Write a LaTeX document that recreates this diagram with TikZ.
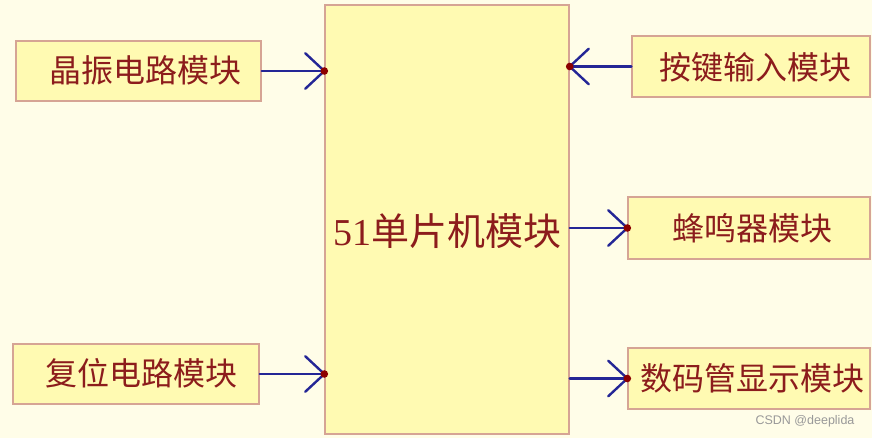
\documentclass[tikz,border=0pt]{standalone}
\usepackage{fontspec}
\setmainfont{Liberation Serif}
\newfontfamily\cjk{Noto Sans CJK SC}
\newfontfamily\wm{Liberation Sans}
\usetikzlibrary{calc}
\definecolor{bgc}{RGB}{255,253,232}
\definecolor{boxfill}{RGB}{255,250,178}
\definecolor{boxline}{RGB}{214,164,148}
\definecolor{txtc}{RGB}{140,28,28}
\definecolor{arrc}{RGB}{36,38,150}
\definecolor{dotc}{RGB}{140,0,0}
\tikzset{
  blockbox/.style={draw=boxline, line width=1.4pt, fill=boxfill, inner sep=0pt},
  lbl/.style={text=txtc, inner sep=0pt, font=\cjk\fontsize{32}{32}\selectfont},
  conn/.style={draw=arrc, line width=2.4pt, line cap=round, line join=round},
  jdot/.style={fill=dotc},
}
\newcommand{\barbarrow}[2]{%
  \draw[conn] (#1) -- (#2);
  \draw[conn] ($(#2)!26pt!43:(#1)$) -- (#2) -- ($(#2)!26pt!-43:(#1)$);
  \fill[jdot] (#2) circle (3.8pt);
}
\begin{document}
\begin{tikzpicture}[x=1pt,y=-1pt]
\fill[bgc] (0,0) rectangle (872,438);
\useasboundingbox (0,0) rectangle (872,438);
% boxes
\node[blockbox, minimum width=244pt, minimum height=429pt] (main) at (447,219.5) {};
\node[blockbox, minimum width=245pt, minimum height=60pt] (l1) at (138.5,71) {};
\node[blockbox, minimum width=246pt, minimum height=60pt] (l2) at (136,374) {};
\node[blockbox, minimum width=238pt, minimum height=61pt] (r1) at (751,66.5) {};
\node[blockbox, minimum width=242pt, minimum height=62pt] (r2) at (749,228) {};
\node[blockbox, minimum width=242pt, minimum height=61pt] (r3) at (749,378.5) {};
% texts
\node[lbl] (tl1) at (145,70) {晶振电路模块};
\node[lbl] (tl2) at (141,373) {复位电路模块};
\node[lbl] (tr1) at (755,67) {按键输入模块};
\node[lbl] (tr2) at (752,228) {蜂鸣器模块};
\node[lbl] (tr3) at (752,378) {数码管显示模块};
\node[text=txtc, inner sep=0pt] (tm) at (447.5,231) {\fontsize{38}{38}\selectfont 51\cjk 单片机模块};
\node[text=black!40, inner sep=0pt, font=\wm\fontsize{12.5}{12.5}\selectfont] (wmk) at (805,421) {CSDN @deeplida};
% connectors
\coordinate (p1) at (main.west |- l1.east);
\coordinate (p2) at (main.west |- l2.east);
\coordinate (p3) at (main.east |- r1.west);
\coordinate (p4) at (r2.west);
\coordinate (p5) at (r3.west);
\coordinate (s4) at (main.east |- r2.west);
\coordinate (s5) at (main.east |- r3.west);
\barbarrow{l1.east}{p1}
\barbarrow{l2.east}{p2}
\barbarrow{r1.west}{p3}
\barbarrow{s4}{p4}
\barbarrow{s5}{p5}
\end{tikzpicture}
\end{document}
